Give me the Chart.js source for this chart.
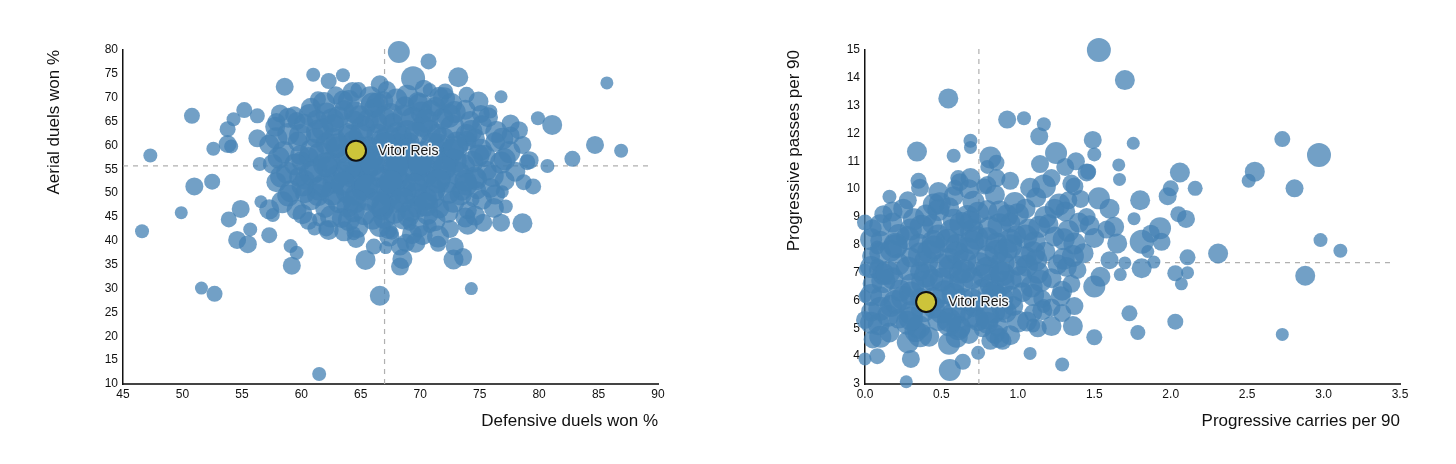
<!DOCTYPE html>
<html>
<head>
<meta charset="utf-8">
<title>Vitor Reis - duels and progression</title>
<script src="https://cdn.jsdelivr.net/npm/chart.js@4.4.0/dist/chart.umd.min.js"></script>
<style>
body { margin: 0; background: #fff; }
.wrap { position: absolute; top: 0; width: 728px; height: 464px; }
</style>
</head>
<body>
<div class="wrap" style="left:0"><canvas id="duelsChart" width="728" height="464"></canvas></div>
<div class="wrap" style="left:728px"><canvas id="progChart" width="728" height="464"></canvas></div>
<script>
// ---- left chart: defensive duels won % vs aerial duels won % ----
var duelsX = [
    47.3,46.6,50.8,49.9,51.0,52.5,52.6,51.6,52.7,53.8,
    54.3,53.8,54.1,55.2,56.3,56.3,56.5,53.9,54.9,54.6,
    55.5,55.7,56.6,57.3,57.6,57.3,59.1,59.6,59.2,58.6,
    61.0,62.3,63.5,61.4,64.8,66.6,58.2,57.9,61.5,66.6,
    65.4,67.1,68.3,68.5,68.3,69.6,71.5,70.8,69.1,72.9,
    72.8,73.6,74.3,74.0,75.3,76.8,76.2,77.2,78.6,74.4,
    76.9,78.7,79.5,74.8,62.3,61.1,61.5,64.4,67.6,68.2,
    70.7,69.4,73.2,76.8,79.9,81.1,85.7,84.7,86.9,82.8,
    80.7,79.0,78.3,77.6,74.9,75.9,72.1,70.8,
    62.9,64.3,65.8,67.2,68.9,70.3,71.6,63.5,66.4,69.8,72.6,73.9,
    59.4,60.8,62.1,63.6,64.9,66.1,67.5,68.7,70.1,71.3,72.4,73.8,75.1,61.3,65.6,69.4,74.2,
    57.8,58.9,60.2,61.4,62.7,63.9,65.2,66.4,67.7,68.9,70.2,71.4,72.7,73.9,75.2,76.4,77.6,59.6,64.4,71.9,
    57.3,58.5,59.7,60.9,62.1,63.3,64.4,65.6,66.8,67.9,69.1,70.3,71.5,72.7,73.9,75.1,76.3,77.5,78.6,61.2,68.4,74.6,
    57.6,58.8,60.0,61.2,62.4,63.6,64.8,66.0,67.2,68.4,69.6,70.8,72.0,73.2,74.4,75.6,76.8,78.0,79.2,60.6,65.4,71.1,66.7,
    57.9,59.1,60.3,61.5,62.7,63.9,65.1,66.3,67.5,68.7,69.9,71.1,72.3,73.5,74.7,75.9,77.1,64.2,70.4,59.8,
    58.4,59.6,60.8,62.0,63.2,64.4,65.6,66.8,68.0,69.2,70.4,71.6,72.8,74.0,75.2,61.4,67.4,73.4,
    60.6,62.1,63.4,64.7,66.0,67.3,68.6,69.9,71.2,72.5,73.8,65.3,70.6,
    64.6,66.1,67.4,68.8,70.2,71.5,
    61.8,64.1,66.3,68.2,70.8,73.1,63.0,65.9,69.0,72.3,62.2,64.9,67.8,70.0,73.6,61.9,
    64.6,67.2,69.6,72.4,63.9,66.9,69.8,67.0,68.0,66.9,70.9,63.1,75.4,59.9,60.3,74.6,
    61.9,64.0,66.0,68.0,70.0,72.0,
    58.9,60.7,62.6,64.5,66.9,68.6,70.5,72.9,75.7,
    57.9,59.9,62.7,65.0,67.3,69.7,71.9,74.3,76.9,
    58.1,59.5,61.6,63.9,66.4,68.1,70.2,72.9,74.9,77.1,
    58.3,60.8,62.9,65.5,68.0,69.6,71.6,73.8,76.1,
    58.9,60.1,62.6,65.2,68.6,71.0,73.9,76.3,
    60.1,62.5,64.0,67.8,69.0,72.3,74.6,
    63.6,66.6,69.3,
    63.0,65.0,67.0,69.0,71.0,73.0,62.0,64.0,66.0,68.0,70.0,72.0,
    63.5,65.5,67.5,69.5,71.5,64.5,66.5,68.5,70.5
];
var aerialY = [
    57.9,42.0,66.2,45.9,51.4,52.4,59.3,30.1,28.9,63.4,
    65.5,60.3,59.8,67.4,66.2,61.5,56.1,44.5,46.7,40.2,
    39.3,42.4,48.2,46.6,45.4,41.2,38.9,37.5,34.8,72.3,
    74.8,73.5,74.7,69.7,71.6,72.8,66.7,64.9,12.1,28.5,
    36.0,38.6,38.8,36.2,34.6,39.6,40.9,43.1,43.6,38.8,
    36.1,36.6,30.0,43.4,43.8,43.8,46.9,47.2,43.7,48.6,
    50.3,52.3,51.4,50.6,42.3,42.6,44.5,41.6,41.7,79.6,
    77.6,74.1,74.3,70.2,65.7,64.3,73.1,60.1,58.9,57.2,
    55.7,56.5,63.2,62.1,69.2,67.1,71.3,71.6,
    70.5,71.2,70.1,71.6,70.4,71.9,70.2,69.4,68.8,69.1,68.7,70.6,
    66.3,67.9,66.7,67.4,66.1,67.8,66.4,68.2,66.9,68.1,66.2,67.5,66.6,65.4,65.2,65.6,65.1,
    63.9,62.4,64.6,62.9,64.3,62.6,63.8,62.3,64.7,62.8,64.1,62.5,63.9,62.2,64.3,62.8,64.6,65.1,65.3,65.6,
    60.2,58.6,60.8,58.9,60.4,58.3,60.9,59.4,61.1,58.8,60.6,58.4,60.2,58.9,61.0,59.1,60.7,58.6,60.1,61.6,61.8,61.5,
    56.1,54.3,56.7,54.8,56.4,54.2,56.8,54.9,56.3,54.4,56.9,54.6,56.2,54.1,56.6,54.7,56.4,54.5,56.9,57.6,57.7,57.8,53.3,
    52.3,50.4,52.8,50.9,52.2,50.3,52.7,50.8,52.1,50.2,52.6,50.7,52.4,50.5,52.9,51.1,52.6,53.5,53.6,53.4,
    48.1,46.5,48.7,46.9,48.3,46.2,48.8,46.6,48.4,46.3,48.9,46.8,48.2,46.4,48.6,49.6,49.5,49.7,
    44.2,42.6,44.8,42.9,44.4,42.3,44.7,42.8,44.3,42.5,44.9,45.6,45.7,
    40.4,38.8,40.9,39.6,41.2,39.4,
    63.4,61.8,64.9,60.1,63.1,60.4,59.6,57.4,57.5,57.3,55.5,53.6,55.3,55.4,55.7,51.6,
    49.6,51.3,49.7,50.1,47.2,47.5,47.1,44.8,62.6,69.3,67.2,65.9,57.8,58.0,50.0,53.3,
    68.9,69.3,68.6,69.6,68.4,69.9,
    65.8,66.4,65.3,66.9,65.6,66.2,65.1,67.0,65.9,
    61.5,62.2,61.2,62.1,61.6,62.4,61.3,63.0,61.4,
    57.4,56.0,58.2,56.9,58.6,56.5,57.2,56.8,57.9,57.1,
    53.5,54.1,53.2,55.1,53.0,54.9,53.4,52.6,53.6,
    49.5,51.6,49.9,50.9,51.8,49.2,51.8,49.7,
    45.6,45.1,44.4,46.1,45.2,46.1,45.3,
    42.0,43.1,41.4,
    60.0,59.2,60.3,59.0,60.1,59.5,56.0,55.3,56.1,55.6,56.3,55.2,
    52.0,51.4,52.3,51.6,52.5,48.3,47.9,48.6,47.6
];
// minutes played, sets the bubble size
var duelsMins = [
    1050,1050,1350,900,1650,1350,1050,900,1350,1350,
    1050,1650,1050,1350,1200,1650,1050,1350,1650,1650,
    1650,1050,900,1950,1050,1350,1050,1050,1650,1650,
    1050,1350,1050,1350,1350,1650,1650,1650,1050,1950,
    1950,900,1650,1950,1650,1950,2250,1050,1050,1650,
    1950,1650,900,1950,1650,1650,1950,1050,1950,1050,
    900,1350,1350,1650,1950,1050,1050,1050,1050,2250,
    1350,2550,1950,900,1050,1950,900,1650,1050,1350,
    1050,1350,1650,1650,1950,1050,1350,1050,
    1650,1950,2250,1650,2250,1650,1950,1950,2250,1950,2250,1350,
    1650,1950,2250,1950,2250,1950,2550,1950,2250,1950,2550,1950,1650,1950,2250,2550,1950,
    1950,2250,1950,2550,2250,1950,2550,2250,1950,2550,2250,1950,2550,2250,1950,2250,1650,1650,1950,2250,
    1950,2250,1950,2550,2250,1950,2250,2550,2250,2550,1950,2550,2250,2550,1950,2250,1950,2250,1650,1950,2250,1950,
    1950,2250,1950,2550,2250,2550,2250,2550,2250,2550,2250,2550,2250,2550,2250,1950,2250,1950,1650,1950,2250,2550,2250,
    1950,2250,1950,2550,2250,2550,2250,2550,2250,2550,2250,2550,2250,1950,2250,1950,1950,2250,2550,1950,
    2250,1950,2250,1950,2550,2250,2550,2250,2550,2250,2550,1950,2250,1650,1950,2250,2550,2250,
    1650,1350,1950,2250,1950,1650,2250,1950,2250,1650,1950,2250,2250,
    1650,1350,1950,1650,1950,1350,
    2250,2550,2250,2550,2250,2550,2250,2550,2250,2550,2250,2550,2550,2250,2550,2550,
    2250,2550,2550,2250,2250,2550,2250,2250,2250,1950,2250,2250,2250,1950,1950,2250,
    2250,2250,2550,2250,2550,2250,
    1950,2250,2550,2250,2550,2250,2550,2250,1950,
    2250,2250,2550,2550,2550,2550,2550,2250,2250,
    2250,2250,2550,2550,2550,2550,2550,2550,2250,2250,
    2250,2550,2550,2550,2550,2550,2550,2250,2250,
    2250,2250,2550,2550,2550,2550,2250,1950,
    1950,2250,2250,2550,2250,2250,1950,
    1950,2250,1950,
    2550,2550,2550,2550,2550,2550,2550,2550,2550,2550,2550,2550,
    2550,2550,2550,2550,2550,2550,2550,2550,2550
];
var duelsTicks = [45, 50, 55, 60, 65, 70, 75, 80, 85, 90];
var aerialTicks = [10, 15, 20, 25, 30, 35, 40, 45, 50, 55, 60, 65, 70, 75, 80];
var duelsMedian = 67.0;
var aerialMedian = 55.7;
var vitorDuels = [64.6];
var vitorAerial = [58.9];
var vitorMins = [1950];

// ---- right chart: progressive carries vs progressive passes per 90 ----
var carriesX = [
    1.53,0.545,0.93,1.04,1.17,1.14,0.69,0.69,0.34,0.58,
    0.82,0.16,0.35,0.32,0.0,0.08,0.08,0.0,0.0,0.0,
    0.0,0.27,0.555,0.64,0.74,1.08,1.29,1.50,0.3,0.08,
    1.49,1.5,1.46,1.53,1.25,1.38,1.31,1.145,1.17,1.37,
    0.8,0.8,1.70,1.755,2.73,2.97,2.55,2.51,2.81,2.06,
    2.16,2.0,1.98,1.80,1.66,1.665,1.76,2.05,2.1,1.93,
    1.87,1.81,1.94,1.85,1.89,1.81,2.11,2.03,2.11,2.07,
    2.31,2.98,3.11,2.88,2.73,2.03,1.73,1.785,1.65,1.6,
    1.63,1.67,1.36,1.22,1.1,1.29,1.37,1.28,1.17,1.5,
    1.54,1.70,0.9,0.85,0.77,0.61,0.59,0.49,0.69,0.68,
    0.86,0.86,1.33,1.45,
    0.36,0.62,0.78,0.95,1.08,1.22,0.48,1.35,
    0.28,0.45,0.58,0.71,0.85,0.98,1.12,1.27,1.41,
    0.12,0.25,0.4,0.55,0.67,0.8,0.93,1.05,1.18,1.31,1.45,1.6,
    0.05,0.18,0.3,0.44,0.57,0.69,0.82,0.95,1.07,1.2,1.33,1.47,1.58,
    0.1,0.22,0.35,0.48,0.6,0.73,0.86,0.99,1.11,1.24,1.37,1.5,
    0.04,0.17,0.3,0.42,0.55,0.67,0.8,0.92,1.05,1.18,1.3,1.43,
    0.09,0.22,0.36,0.5,0.62,0.75,0.88,1.0,1.13,1.26,1.39,
    0.05,0.18,0.31,0.44,0.57,0.7,0.83,0.96,1.09,1.22,1.35,
    0.1,0.23,0.36,0.52,0.64,0.77,0.9,1.03,1.16,1.29,
    0.04,0.17,0.3,0.45,0.58,0.71,0.84,0.97,1.1,1.22,
    0.09,0.22,0.35,0.48,0.61,0.74,0.87,1.0,1.13,
    0.05,0.16,0.28,0.42,0.55,0.68,0.82,0.95,
    0.2,0.45,0.7,0.95,0.12,0.4,0.65,0.9,1.12,0.25,0.5,
    0.78,1.02,0.15,0.5,0.7,0.92,0.33,0.62,0.85,0.58,0.88,
    0.18,0.48,0.74,1.0,1.24,
    0.1,0.37,0.63,0.88,1.14,1.4,
    0.04,0.28,0.54,0.8,1.05,1.3,
    0.1,0.36,0.6,0.86,1.1,1.36,
    0.04,0.28,0.56,0.8,1.06,1.32,
    0.12,0.38,0.63,0.9,1.15,
    0.04,0.3,0.58,0.84,1.1,
    0.1,0.38,0.64,0.9,1.16,
    0.04,0.28,0.55,0.8,1.06,
    0.1,0.36,0.6,0.88,
    0.2,0.45,0.7,0.95,0.15,0.4,0.65,0.9,0.2,0.45,0.7,0.95,0.3,0.55,0.8
];
var passesY = [
    15.0,13.26,12.5,12.55,12.33,11.9,11.74,11.5,11.35,11.2,
    11.14,9.73,10.3,8.92,8.8,7.9,7.27,7.1,6.15,5.3,
    3.9,3.08,3.5,3.8,4.12,4.1,3.7,4.68,3.9,4.0,
    11.77,11.25,10.63,9.67,11.3,11.0,10.8,10.9,10.1,10.1,
    10.8,10.15,13.92,11.65,11.8,11.23,10.63,10.3,10.03,10.6,
    10.03,10.03,9.75,9.6,10.87,10.35,8.94,9.1,8.93,8.6,
    8.4,8.11,8.11,7.76,7.38,7.16,7.55,6.98,7.0,6.6,
    7.69,8.17,7.79,6.89,4.78,5.24,5.54,4.85,8.05,7.45,
    8.65,6.93,5.08,5.08,5.1,5.55,5.8,6.15,5.8,6.5,
    6.85,7.35,4.55,4.8,5.0,10.4,10.05,9.49,10.4,10.0,
    10.95,10.4,9.6,10.6,
    10.05,10.25,10.1,10.3,10.05,10.4,9.9,10.2,
    9.6,9.45,9.75,9.55,9.8,9.5,9.7,9.45,9.65,
    9.1,9.3,9.05,9.35,9.0,9.25,9.05,9.3,9.0,9.2,9.0,9.3,
    8.6,8.8,8.55,8.75,8.5,8.85,8.6,8.8,8.55,8.75,8.5,8.7,8.55,
    8.15,8.35,8.05,8.3,8.0,8.25,8.05,8.35,8.1,8.3,8.05,8.25,
    7.6,7.8,7.55,7.75,7.5,7.85,7.6,7.8,7.55,7.75,7.5,7.7,
    7.1,7.3,7.05,7.25,7.0,7.3,7.05,7.25,7.0,7.3,7.1,
    6.6,6.8,6.55,6.75,6.5,6.8,6.55,6.75,6.5,6.8,6.6,
    6.15,6.35,6.1,6.3,6.05,6.35,6.1,6.3,6.05,6.35,
    5.6,5.8,5.55,5.75,5.5,5.8,5.6,5.8,5.55,5.75,
    5.15,5.35,5.05,5.3,5.0,5.3,5.05,5.25,5.0,
    4.6,4.85,4.5,4.7,4.45,4.8,4.55,4.75,
    7.95,8.1,8.5,8.15,6.95,7.4,7.45,7.35,7.45,6.1,6.75,
    6.9,6.85,5.45,5.6,5.45,5.6,4.9,5.05,6.15,8.9,9.2,
    9.2,9.25,9.15,9.1,9.3,
    8.7,8.65,8.75,8.7,8.65,8.8,
    8.2,8.25,8.15,8.2,8.3,8.2,
    7.7,7.65,7.7,7.75,7.7,7.6,
    7.2,7.15,7.2,7.15,7.25,7.2,
    6.7,6.65,6.7,6.65,6.7,
    6.2,6.25,6.2,6.25,6.2,
    5.7,5.65,5.7,5.7,5.65,
    5.2,5.2,5.15,5.2,5.25,
    4.7,4.75,4.7,4.65,
    8.0,7.9,8.1,7.95,7.0,6.9,7.05,6.95,5.95,6.05,6.0,6.1,5.35,5.3,5.4
];
var carriesMins = [
    2550,1950,1650,1050,1050,1650,1050,900,1950,1050,
    2250,1050,1350,2250,1350,1050,1050,900,900,1650,
    900,900,2250,1350,1050,900,1050,1350,1650,1350,
    1650,1050,1350,2250,2250,1650,1650,1650,2550,1650,
    1050,1650,1950,900,1350,2550,1950,1050,1650,1950,
    1200,1350,1650,1950,900,900,900,1350,1650,2250,
    1650,2550,1650,900,900,1950,1350,1350,900,900,
    1950,1050,1050,1950,900,1350,1350,1200,1950,1650,
    1950,900,1950,1950,1050,1650,1650,1950,1050,2250,
    1950,900,1650,1950,1650,1350,1350,2250,1950,1950,
    1350,1650,1650,1650,
    1650,1650,1350,1650,1950,1650,1950,1650,
    1650,2250,1950,2250,1950,2250,1950,2250,1650,
    1650,1950,2250,1950,2550,1950,2250,1950,2250,1950,1650,1950,
    1650,1950,2250,1950,2550,2250,2550,1950,2250,1950,2250,1950,1650,
    1950,2250,1950,2550,2250,2550,2250,1950,2250,1950,2250,1950,
    1650,2250,1950,2550,2250,2550,2250,2550,2250,1950,2250,1950,
    1950,2250,1950,2550,2250,2550,2250,1950,2250,1950,1650,
    1950,2250,2550,2250,2550,2250,2550,1950,2250,1950,1650,
    1950,2250,1950,2550,2250,2550,2250,1950,1650,1950,
    1950,2250,2550,2250,2550,2250,2550,1950,1650,1650,
    2250,1950,2550,2250,2550,2250,1950,2250,1650,
    1650,1950,2250,1950,2250,1950,1650,1950,
    2550,2550,2550,2550,2250,2550,2550,2550,2250,2550,2550,
    2550,2250,2250,2550,2550,2250,2250,2250,2550,2250,2250,
    1950,2250,2250,2250,1950,
    2250,2550,2550,2550,2250,1950,
    2250,2550,2550,2550,2550,2250,
    2250,2550,2550,2550,2550,2250,
    2250,2550,2550,2550,2250,1950,
    2550,2550,2550,2550,2250,
    2250,2550,2550,2550,2250,
    2550,2550,2550,2250,1950,
    2250,2550,2550,2250,1950,
    2250,2550,2250,1950,
    2550,2550,2550,2550,2550,2550,2550,2550,2550,2550,2550,2550,2550,2550,2550
];
var carriesTicks = [0, 0.5, 1.0, 1.5, 2.0, 2.5, 3.0, 3.5];
var passesTicks = [3, 4, 5, 6, 7, 8, 9, 10, 11, 12, 13, 14, 15];
var carriesMedian = 0.745;
var passesMedian = 7.36;
var vitorCarries = [0.40];
var vitorPasses = [5.95];

var playerName = 'Vitor Reis';
var fontFamily = "'Liberation Sans', Arial, sans-serif";

function toBubbles(xs, ys, mins){
    var pts = [];
    var n = Math.min(xs.length, ys.length, mins.length);
    for (var i = 0; i < n; i++) {
        pts.push({x: xs[i], y: ys[i], r: 3.5 + mins[i] / 300});
    }
    return pts;
}

// dashed median lines under the bubbles, name label over them
var medianPlugin = {
    id: 'medianLines',
    beforeDatasetsDraw: function(chart, args, opts){
        var ctx = chart.ctx;
        var area = chart.chartArea;
        var px = chart.scales.x.getPixelForValue(opts.x);
        var py = chart.scales.y.getPixelForValue(opts.y);
        ctx.save();
        ctx.strokeStyle = '#b0b0b0';
        ctx.lineWidth = 1.2;
        ctx.setLineDash([5, 5]);
        ctx.beginPath();
        ctx.moveTo(px, area.bottom);
        ctx.lineTo(px, area.top - 2);
        ctx.moveTo(area.left, py);
        ctx.lineTo(area.right - 5, py);
        ctx.stroke();
        ctx.restore();
    },
    afterDatasetsDraw: function(chart, args, opts){
        var el = chart.getDatasetMeta(0).data[0];
        var ctx = chart.ctx;
        ctx.save();
        ctx.font = '14px ' + fontFamily;
        ctx.textBaseline = 'middle';
        ctx.textAlign = 'left';
        ctx.lineJoin = 'round';
        ctx.lineWidth = 3;
        ctx.strokeStyle = 'rgba(255,255,255,0.9)';
        ctx.strokeText(opts.label, el.x + 22, el.y);
        ctx.fillStyle = '#1a1a1a';
        ctx.fillText(opts.label, el.x + 22, el.y);
        ctx.restore();
    }
};

function makeChart(canvasId, cfg){
    var ctx = document.getElementById(canvasId).getContext('2d');
    return new Chart(ctx, {
        type: 'bubble',
        data: {
            datasets: [{
                label: playerName,
                data: toBubbles(cfg.vx, cfg.vy, cfg.vm),
                backgroundColor: '#cdc43a',
                borderColor: '#111',
                borderWidth: 2,
                clip: false
            }, {
                label: 'Players',
                data: toBubbles(cfg.xs, cfg.ys, cfg.mins),
                backgroundColor: 'rgba(70,130,180,0.76)',
                borderWidth: 0,
                clip: false
            }]
        },
        options: {
            responsive: false,
            animation: false,
            events: [],
            layout: { padding: { left: 0, top: 50, right: cfg.padRight, bottom: 0 } },
            plugins: {
                legend: { display: false },
                tooltip: { enabled: false },
                medianLines: { x: cfg.medX, y: cfg.medY, label: playerName }
            },
            scales: {
                x: {
                    type: 'linear',
                    min: cfg.xTicks[0],
                    max: cfg.xTicks[cfg.xTicks.length - 1],
                    afterBuildTicks: function(scale){
                        scale.ticks = cfg.xTicks.map(function(v){ return {value: v}; });
                    },
                    afterFit: function(scale){ scale.height = 80; },
                    grid: { display: false, drawTicks: false },
                    border: { display: true, color: '#444', width: 2 },
                    ticks: {
                        color: '#111', padding: 3, autoSkip: false, maxRotation: 0,
                        font: { size: 12, family: fontFamily },
                        callback: cfg.xFormat
                    },
                    title: {
                        display: true, text: cfg.xTitle, align: 'end', color: '#111',
                        font: { size: 17, family: fontFamily },
                        padding: { top: 0, bottom: 32 }
                    }
                },
                y: {
                    type: 'linear',
                    min: cfg.yTicks[0],
                    max: cfg.yTicks[cfg.yTicks.length - 1],
                    afterBuildTicks: function(scale){
                        scale.ticks = cfg.yTicks.map(function(v){ return {value: v}; });
                    },
                    afterFit: function(scale){ scale.width = cfg.yWidth; },
                    grid: { display: false, drawTicks: false },
                    border: { display: true, color: '#111', width: 1.5 },
                    ticks: {
                        color: '#111', padding: 5, autoSkip: false,
                        font: { size: 12, family: fontFamily }
                    },
                    title: {
                        display: true, text: cfg.yTitle, align: 'end', color: '#111',
                        font: { size: 17, family: fontFamily },
                        padding: { top: cfg.yTitlePad, bottom: 0 }
                    }
                }
            }
        },
        plugins: [medianPlugin]
    });
}

makeChart('duelsChart', {
    xs: duelsX, ys: aerialY, mins: duelsMins,
    vx: vitorDuels, vy: vitorAerial, vm: vitorMins,
    xTicks: duelsTicks, yTicks: aerialTicks,
    medX: duelsMedian, medY: aerialMedian,
    xTitle: 'Defensive duels won %', yTitle: 'Aerial duels won %',
    xFormat: function(v){ return v; },
    yWidth: 123, yTitlePad: 44, padRight: 70
});

makeChart('progChart', {
    xs: carriesX, ys: passesY, mins: carriesMins,
    vx: vitorCarries, vy: vitorPasses, vm: vitorMins,
    xTicks: carriesTicks, yTicks: passesTicks,
    medX: carriesMedian, medY: passesMedian,
    xTitle: 'Progressive carries per 90', yTitle: 'Progressive passes per 90',
    xFormat: function(v){ return Number(v).toFixed(1); },
    yWidth: 137, yTitlePad: 56, padRight: 56
});
</script>
</body>
</html>
